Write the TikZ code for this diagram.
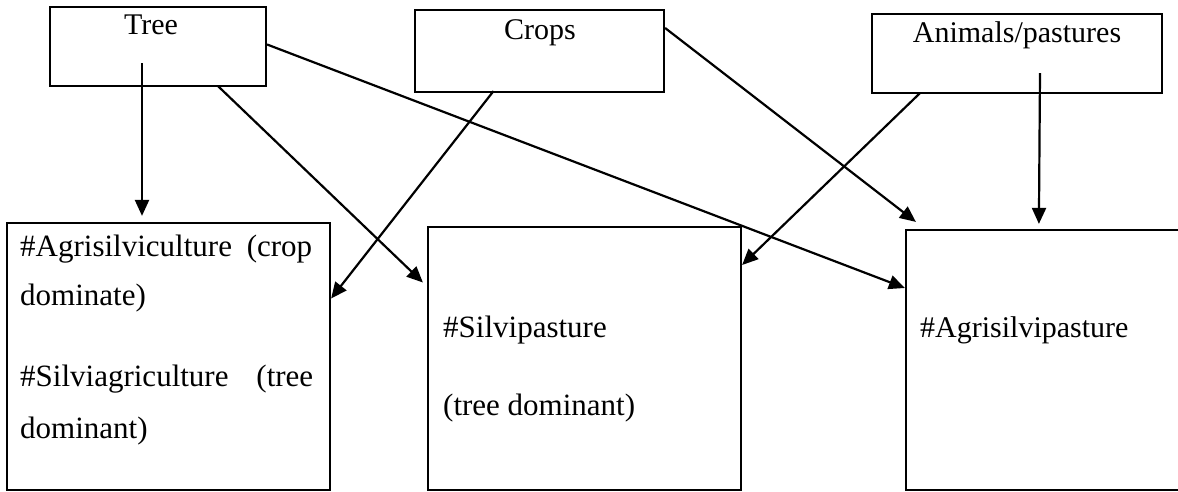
\documentclass[tikz,border=0pt]{standalone}
\usepackage{fontspec}
\setmainfont{Liberation Serif}
\usetikzlibrary{arrows.meta}
\begin{document}
\begin{tikzpicture}[x=1pt,y=-1pt,
  box/.style={draw, line width=2.2pt, rectangle, inner sep=0pt},
  txt/.style={inner sep=0pt, font=\fontsize{30}{36}\selectfont},
  txtb/.style={inner sep=0pt, font=\fontsize{31}{37}\selectfont},
  conn/.style={line width=2.2pt, -{Triangle[length=16pt,width=14pt]}}]
\useasboundingbox (0,0) rectangle (1178,492);
\clip (0,0) rectangle (1178,492);
\fill[white] (0,0) rectangle (1178,492);
% top boxes
\node[box, minimum width=216pt, minimum height=79pt] (tree) at (158,46.5) {};
\node[box, minimum width=249pt, minimum height=82pt] (crops) at (539.5,51) {};
\node[box, minimum width=290pt, minimum height=79pt] (animals) at (1017,53.5) {};
\node[txt, anchor=base] (treet) at (151,35) {Tree};
\node[txt, anchor=base] (cropst) at (540,40) {Crops};
\node[txt, anchor=base] (animalst) at (1017,43) {Animals/pastures};
% bottom boxes
\node[box, minimum width=323pt, minimum height=267pt] (box1) at (168.5,356.5) {};
\node[box, minimum width=313pt, minimum height=263pt] (box2) at (584.5,358.5) {};
\node[box, minimum width=300pt, minimum height=260pt] (box3) at (1056,360) {};
\node[txtb, anchor=base west] (l1) at (20,256) {\makebox[292pt][l]{\#Agrisilviculture\hfill(crop}};
\node[txtb, anchor=base west] (l2) at (20,305) {dominate)};
\node[txtb, anchor=base west] (l3) at (20,386) {\makebox[293pt][l]{\#Silviagriculture\hfill(tree}};
\node[txtb, anchor=base west] (l4) at (20,438) {dominant)};
\node[txtb, anchor=base west] (m1) at (443,337) {\#Silvipasture};
\node[txtb, anchor=base west] (m2) at (443,415) {(tree dominant)};
\node[txt, anchor=base west] (r1) at (920,337) {\#Agrisilvipasture};
% connectors
\draw[conn] ([xshift=-16pt,yshift=24pt]tree.south) -- ([xshift=-26.5pt,yshift=6pt]box1.north);
\draw[conn] ([xshift=60pt,yshift=1pt]tree.south) -- ([xshift=-4pt,yshift=76pt]box2.west);
\draw[conn] ([yshift=2pt]tree.east) -- ([yshift=72pt]box3.west);
\draw[conn] ([xshift=-46pt,yshift=2pt]crops.south) -- ([yshift=58pt]box1.east);
\draw[conn] ([yshift=23pt]crops.east) -- ([xshift=11pt,yshift=7pt]box3.north west);
\draw[conn] ([xshift=-97pt,yshift=1pt]animals.south) -- ([yshift=93.5pt]box2.east);
\draw[conn] ([xshift=23pt,yshift=21pt]animals.south) -- ([xshift=134pt,yshift=5pt]box3.north west);
\end{tikzpicture}
\end{document}
